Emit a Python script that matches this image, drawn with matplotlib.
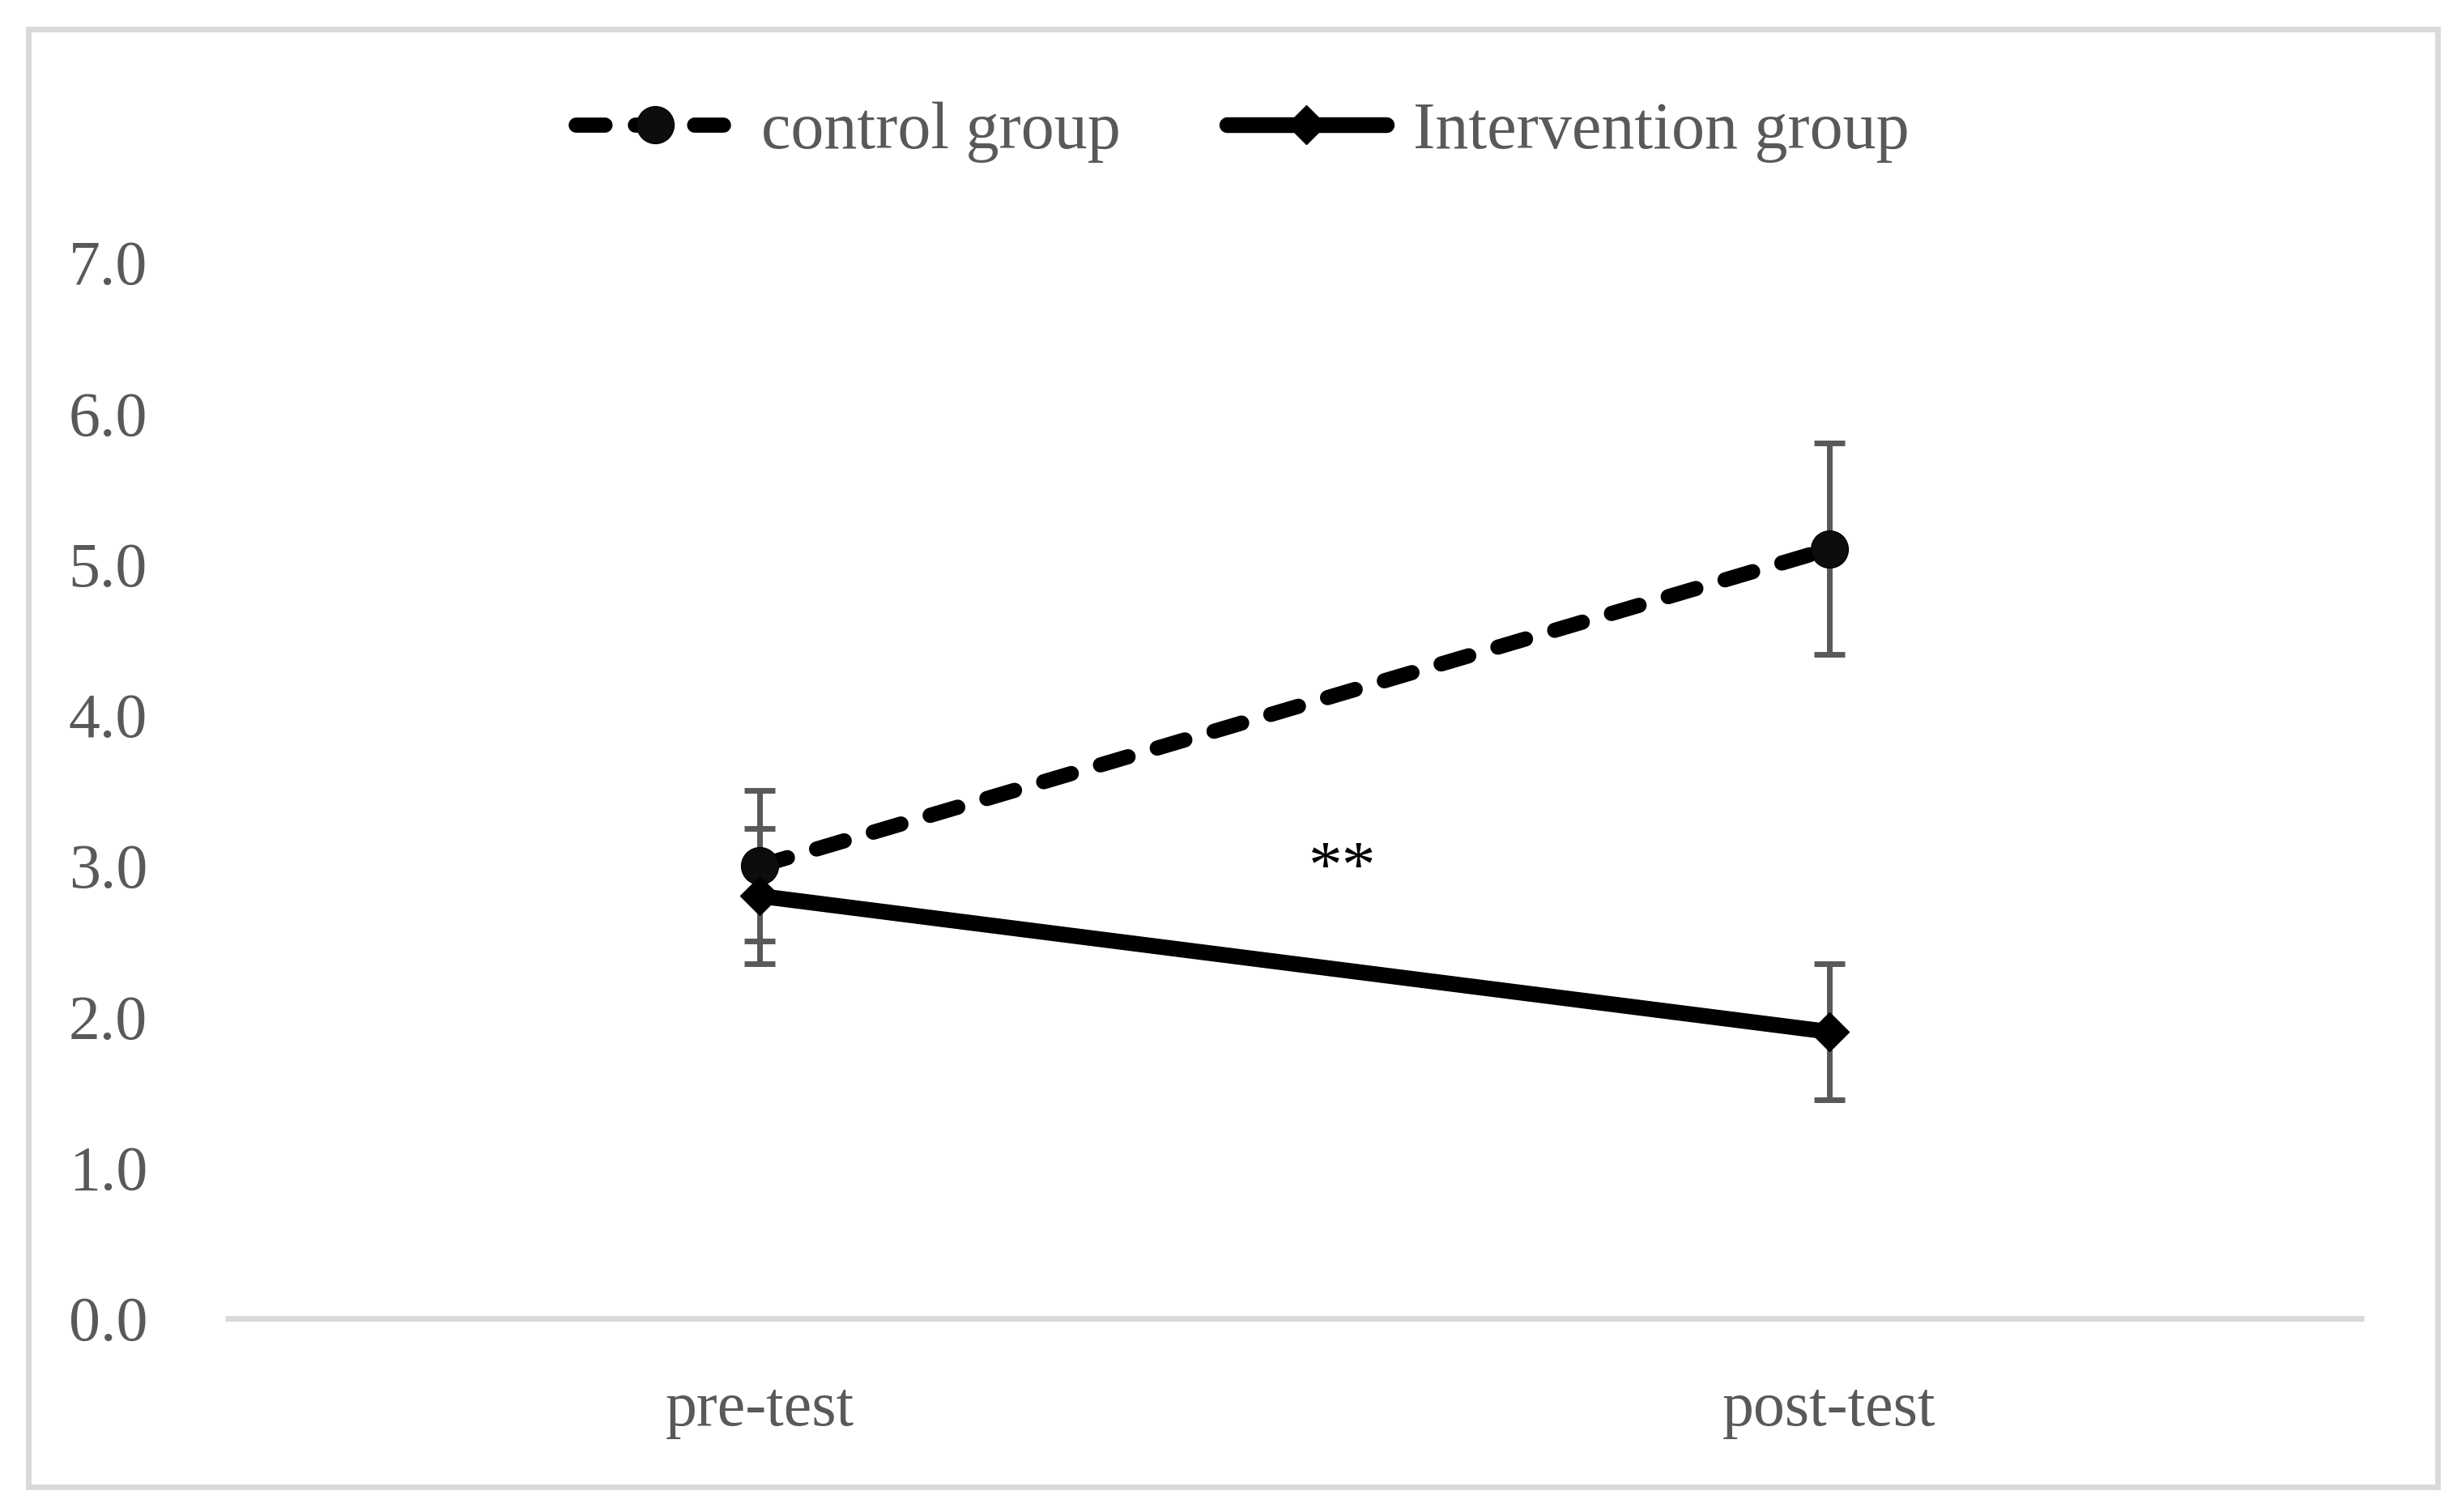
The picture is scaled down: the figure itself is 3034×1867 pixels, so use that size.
import numpy as np
import matplotlib.pyplot as plt
from matplotlib.patches import Rectangle

# data
phases = ['pre-test', 'post-test']
control_mean = [3.0, 5.1]
control_err = [0.5, 0.7]
interv_mean = [2.8, 1.9]
interv_err = [0.45, 0.45]
yticks = [0, 1, 2, 3, 4, 5, 6, 7]

plt.rcParams['font.family'] = ['Liberation Serif', 'DejaVu Serif']
grey = '#595959'
light = '#D9D9D9'

fig = plt.figure(figsize=(30.34, 18.67), dpi=100)
ax = fig.add_axes([0.0916, 0.1280, 0.8705, 0.6985])

x = np.arange(len(phases))

# error bars behind the lines
ax.errorbar(x, control_mean, yerr=control_err, fmt='none', ecolor=grey,
            elinewidth=5, capsize=14, capthick=5, zorder=2)
ax.errorbar(x, interv_mean, yerr=interv_err, fmt='none', ecolor=grey,
            elinewidth=5, capsize=14, capthick=5, zorder=2)

ax.plot(x, control_mean, color='black', lw=13.5, dashes=(1.9, 2.0),
        dash_capstyle='round', marker='o', ms=33, mec='black', mew=1,
        mfc='#0d0d0d', label='control group', zorder=3)
ax.plot(x, interv_mean, color='black', lw=14, solid_capstyle='round',
        marker='D', ms=24, mec='black', mew=1, label='Intervention group',
        zorder=4)

ax.text(0.545, 2.86, '**', fontsize=60, color='black', ha='center', va='baseline')

ax.set_xlim(-0.5, 1.5)
ax.set_ylim(0, 7)
ax.set_xticks(x)
ax.set_xticklabels(phases)
ax.set_yticks(yticks)
ax.set_yticklabels([f'{v:.1f}' for v in yticks])
ax.tick_params(axis='both', length=0, labelsize=56, labelcolor=grey)
ax.tick_params(axis='y', pad=69)
ax.tick_params(axis='x', pad=56)

for s in ['top', 'right', 'left']:
    ax.spines[s].set_visible(False)
ax.spines['bottom'].set_color(light)
ax.spines['bottom'].set_linewidth(5)
ax.spines['bottom'].set_capstyle('butt')

fig.legend(loc='center', bbox_to_anchor=(0.5056, 0.9125), ncol=2, frameon=False,
           prop={'size': 59}, labelcolor=grey, handlelength=2.4, handletextpad=0.4,
           columnspacing=1.6, numpoints=1)

# outer chart border
fig.patches.append(Rectangle((0.01154, 0.0166), 0.98055, 0.96412,
                             transform=fig.transFigure, fill=False,
                             edgecolor=light, lw=5))

fig.savefig('out.png', dpi=100)
